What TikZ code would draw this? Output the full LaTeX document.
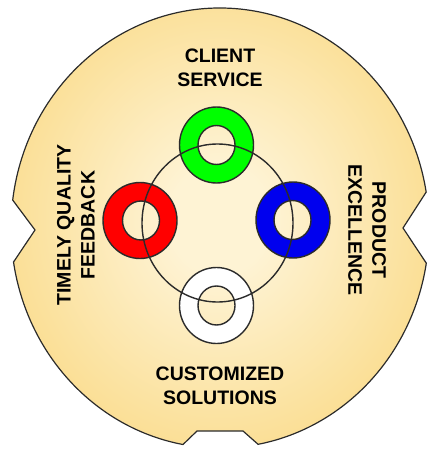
\documentclass[tikz,border=0pt]{standalone}
\usepackage{fontspec}
\setmainfont{Liberation Sans}
\definecolor{bgin}{HTML}{FEF3D4}
\definecolor{bgout}{HTML}{F8D068}
\definecolor{edge}{HTML}{2B2B2B}
\pgfdeclareradialshading{bgshade}{\pgfpoint{0bp}{0bp}}{color(0bp)=(bgin); color(6bp)=(bgin); color(40bp)=(bgout); color(72bp)=(bgout)}
\begin{document}
\begin{tikzpicture}[x=1pt,y=-1pt,
  ring/.style={draw=edge, line width=1.4pt, even odd rule},
  lbl/.style={font=\fontsize{19.5}{24}\selectfont\bfseries, align=center, text=black, inner sep=0pt}]
\useasboundingbox (0,0) rectangle (441,458);
% outer notched shape
\path[draw=edge, line width=1.2pt, shading=bgshade]
  (426.31,263.17) arc[start angle=9.2, end angle=79.5, x radius=209, y radius=220]
  -- (243,431) -- (197,431) -- (182.99,444.52)
  arc[start angle=100.2, end angle=171.1, x radius=209, y radius=220]
  -- (35,230) -- (12.69,200.05)
  arc[start angle=187.3, end angle=350.6, x radius=209, y radius=220]
  -- (403,228) -- cycle;
% rings
\path[ring, fill=green] (216.5,145) ellipse[x radius=37, y radius=38] (216.5,145) ellipse[x radius=18.5, y radius=19.5];
\path[ring, fill=red] (140,220.5) ellipse[x radius=37, y radius=38] (141,220.5) ellipse[x radius=18.5, y radius=19.5];
\path[ring, fill={rgb,255:red,0;green,0;blue,238}] (293,220) ellipse[x radius=37, y radius=38] (292.5,220) ellipse[x radius=18.5, y radius=19.5];
\path[ring, fill=white] (216.5,305.5) ellipse[x radius=37, y radius=38] (216.5,305.5) ellipse[x radius=18.5, y radius=19.5];
% central circle
\draw[edge, line width=1.4pt] (217.5,223) ellipse[x radius=75.5, y radius=79];
% labels
\node[lbl] (cs) at (220,68) {CLIENT\\SERVICE};
\node[lbl] (cu) at (220,386) {CUSTOMIZED\\SOLUTIONS};
\node[lbl, rotate=90] (tq) at (76,225) {TIMELY QUALITY\\FEEDBACK};
\node[lbl, rotate=-90] (pe) at (367,230) {PRODUCT\\EXCELLENCE};
\end{tikzpicture}
\end{document}
